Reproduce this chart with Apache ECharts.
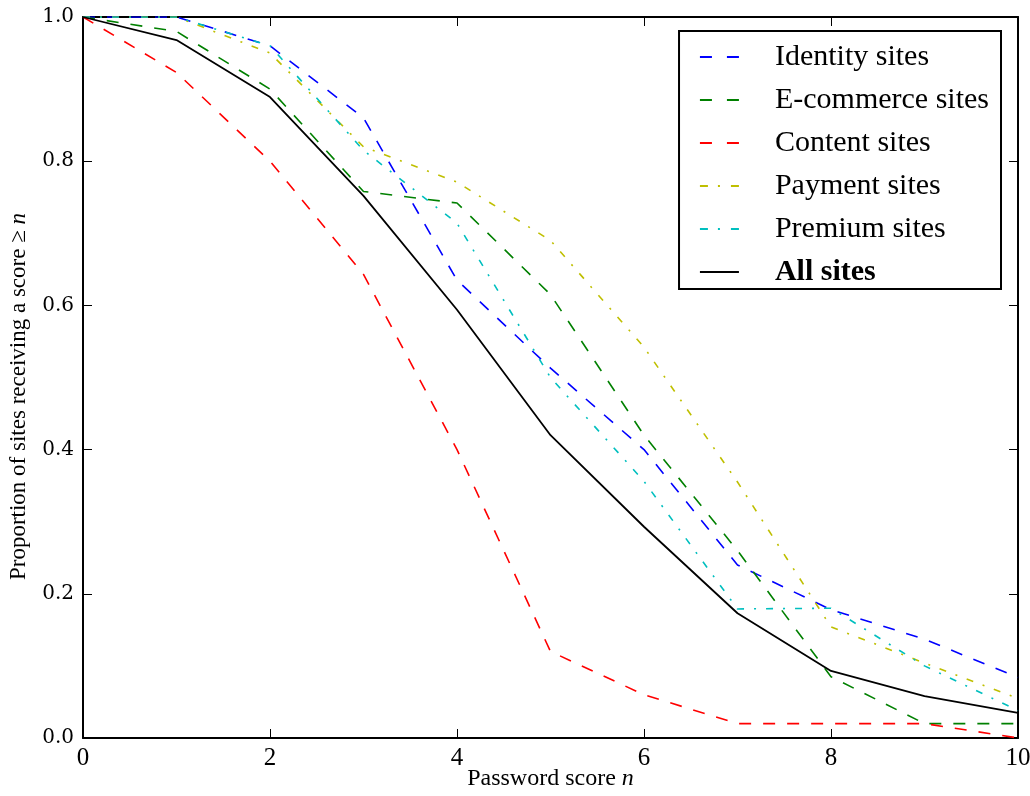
<!DOCTYPE html>
<html>
<head>
<meta charset="utf-8">
<script src="https://cdn.jsdelivr.net/npm/echarts@6/dist/echarts.min.js"></script>
<style>html,body{margin:0;padding:0;background:#fff}#c{width:1030px;height:796px}</style>
</head>
<body>
<div id="c"></div>
<script>
var scores = [0,1,2,3,4,5,6,7,8,9,10];
var xTicks = [0,2,4,6,8,10];
var yTicks = [0.0,0.2,0.4,0.6,0.8,1.0];
var identity  = [1.0,1.0,0.96,0.86,0.635,0.513,0.40,0.24,0.178,0.137,0.084];
var ecommerce = [1.0,0.98,0.90,0.758,0.742,0.615,0.42,0.26,0.085,0.02,0.02];
var content   = [1.0,0.923,0.80,0.643,0.40,0.12,0.06,0.02,0.02,0.02,0.0];
var payment   = [1.0,1.0,0.95,0.82,0.771,0.69,0.542,0.355,0.154,0.104,0.055];
var premium   = [1.0,1.0,0.96,0.815,0.714,0.50,0.356,0.179,0.18,0.10,0.038];
var allSites  = [1.0,0.968,0.889,0.752,0.594,0.42,0.293,0.173,0.093,0.058,0.035];

var names = ['Identity sites','E-commerce sites','Content sites','Payment sites','Premium sites','All sites'];
var colors = ['#0000ff','#008000','#ff0000','#bfbf00','#00bfbf','#000000'];
var dashes = [[12,12],[12,12],[12,12],[7,10,2,10],[7,10,2,10],'solid'];
var legendDashes = [[12,15],[12,15],[12,15],[8,10,2,11],[8,10,2,11],'solid'];
var values = [identity, ecommerce, content, payment, premium, allSites];

function pairs(v){ return scores.map(function(s,i){ return [s, v[i]]; }); }

var series = names.map(function(n,i){
  return {
    name: n, type: 'line', data: pairs(values[i]), symbol: 'none', silent: true,
    animation: false, xAxisIndex: 0, yAxisIndex: 0,
    z: i === 5 ? 3 : 2,
    lineStyle: { color: colors[i], width: i === 5 ? 1.8 : 1.6, type: dashes[i] },
    itemStyle: { color: colors[i] }
  };
});

var chart = echarts.init(document.getElementById('c'), null, {renderer: 'canvas'});
function axisLine(){ return { show: true, onZero: false, lineStyle: { color: '#000', width: 2 } }; }
var tickStyle = { show: true, inside: true, length: 9, lineStyle: { color: '#000', width: 1 } };
chart.setOption({
  animation: false,
  backgroundColor: '#fff',
  grid: { left: 83, right: 12, top: 17, bottom: 58, containLabel: false, outerBoundsMode: 'none' },
  legend: {
    data: names.map(function(n,i){
      return { name: n,
        lineStyle: { type: legendDashes[i], width: 1.8, color: colors[i] },
        textStyle: i === 5 ? { fontWeight: 'bold' } : {} };
    }),
    orient: 'vertical', right: 29, top: 31,
    itemWidth: 39, itemHeight: 14, itemGap: 13,
    padding: [11, 12, 2, 20],
    borderColor: '#000', borderWidth: 2, backgroundColor: '#fff',
    selectedMode: false,
    itemStyle: { opacity: 0 },
    textStyle: { fontFamily: 'Liberation Serif', fontSize: 30, lineHeight: 30, color: '#000', padding: [0,0,0,31] }
  },
  xAxis: [{
    type: 'value', min: 0, max: 10, interval: 2, position: 'bottom',
    name: '{a|Password score }{b|n}', nameLocation: 'middle', nameGap: 29, nameMoveOverlap: false,
    nameTextStyle: { rich: {
      a: { fontFamily: 'Liberation Serif', fontSize: 24, color: '#000' },
      b: { fontFamily: 'Liberation Serif', fontSize: 24, fontStyle: 'italic', color: '#000' } } },
    axisLine: axisLine(), axisTick: tickStyle, splitLine: { show: false },
    axisLabel: { fontFamily: 'Liberation Serif', fontSize: 25, color: '#000', margin: 8 }
  }, {
    type: 'value', min: 0, max: 10, interval: 2, position: 'top',
    axisLine: axisLine(), axisTick: tickStyle, splitLine: { show: false },
    axisLabel: { show: false }
  }],
  yAxis: [{
    type: 'value', min: 0, max: 1, interval: 0.2, position: 'left',
    name: '{a|Proportion of sites receiving a score \u2265 }{b|n}', nameLocation: 'middle', nameGap: 53,
    nameRotate: 90,
    nameTextStyle: { padding: [0, 0, 0, -38], rich: {
      a: { fontFamily: 'Liberation Serif', fontSize: 23, color: '#000' },
      b: { fontFamily: 'Liberation Serif', fontSize: 23, fontStyle: 'italic', color: '#000' } } },
    axisLine: axisLine(), axisTick: tickStyle, splitLine: { show: false },
    axisLabel: { fontFamily: 'DejaVu Serif', fontSize: 20, color: '#000', margin: 9,
      formatter: function(v){ return v.toFixed(1); } }
  }, {
    type: 'value', min: 0, max: 1, interval: 0.2, position: 'right',
    axisLine: axisLine(), axisTick: tickStyle, splitLine: { show: false },
    axisLabel: { show: false }
  }],
  series: series
});
</script>
</body>
</html>
